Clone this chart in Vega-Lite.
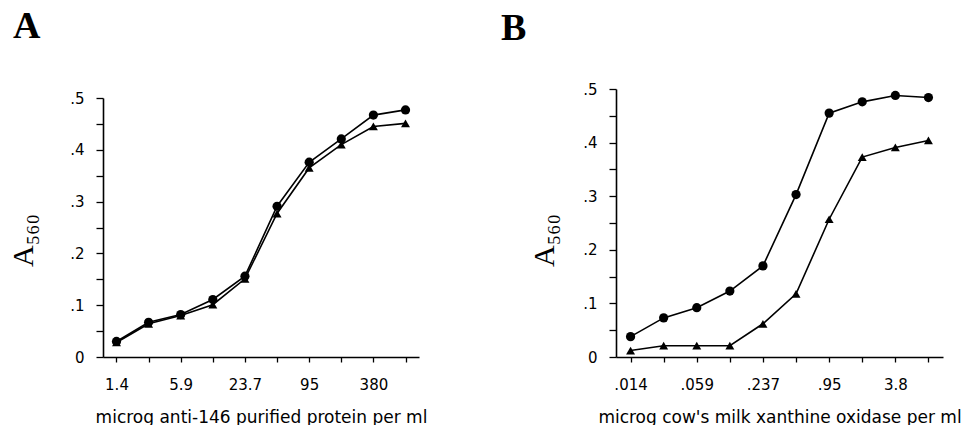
{
  "$schema": "https://vega.github.io/schema/vega-lite/v6.json",
  "background": "white",
  "padding": {"left": 8, "top": 8, "right": 0, "bottom": 0},
  "spacing": 74,
  "config": {
    "view": {"stroke": null},
    "axis": {
      "domainColor": "black", "domainWidth": 1.6, "tickColor": "black", "tickWidth": 1.3,
      "labelColor": "black", "titleColor": "black", "grid": false,
      "labelFont": "DejaVu Sans", "labelFontSize": 15, "labelFontWeight": "normal", "labelOverlap": false
    },
    "title": {"font": "Liberation Serif", "fontSize": 38, "fontWeight": "bold", "color": "black", "anchor": "start", "frame": "group"}
  },
  "datasets": {
    "a": [
      {"conc": "1.4", "series": "circle", "a560": 0.030},
      {"conc": "2.95", "series": "circle", "a560": 0.067},
      {"conc": "5.9", "series": "circle", "a560": 0.082},
      {"conc": "11.8", "series": "circle", "a560": 0.111},
      {"conc": "23.7", "series": "circle", "a560": 0.156},
      {"conc": "47.4", "series": "circle", "a560": 0.291},
      {"conc": "95", "series": "circle", "a560": 0.376},
      {"conc": "190", "series": "circle", "a560": 0.421},
      {"conc": "380", "series": "circle", "a560": 0.467},
      {"conc": "760", "series": "circle", "a560": 0.477},
      {"conc": "1.4", "series": "triangle", "a560": 0.028},
      {"conc": "2.95", "series": "triangle", "a560": 0.064},
      {"conc": "5.9", "series": "triangle", "a560": 0.080},
      {"conc": "11.8", "series": "triangle", "a560": 0.101},
      {"conc": "23.7", "series": "triangle", "a560": 0.151},
      {"conc": "47.4", "series": "triangle", "a560": 0.277},
      {"conc": "95", "series": "triangle", "a560": 0.365},
      {"conc": "190", "series": "triangle", "a560": 0.410},
      {"conc": "380", "series": "triangle", "a560": 0.445},
      {"conc": "760", "series": "triangle", "a560": 0.451}
    ],
    "b": [
      {"conc": ".014", "series": "circle", "a560": 0.038},
      {"conc": ".029", "series": "circle", "a560": 0.073},
      {"conc": ".059", "series": "circle", "a560": 0.092},
      {"conc": ".118", "series": "circle", "a560": 0.123},
      {"conc": ".237", "series": "circle", "a560": 0.170},
      {"conc": ".475", "series": "circle", "a560": 0.303},
      {"conc": ".95", "series": "circle", "a560": 0.455},
      {"conc": "1.9", "series": "circle", "a560": 0.476},
      {"conc": "3.8", "series": "circle", "a560": 0.488},
      {"conc": "7.6", "series": "circle", "a560": 0.484},
      {"conc": ".014", "series": "triangle", "a560": 0.012},
      {"conc": ".029", "series": "triangle", "a560": 0.021},
      {"conc": ".059", "series": "triangle", "a560": 0.021},
      {"conc": ".118", "series": "triangle", "a560": 0.021},
      {"conc": ".237", "series": "triangle", "a560": 0.062},
      {"conc": ".475", "series": "triangle", "a560": 0.118},
      {"conc": ".95", "series": "triangle", "a560": 0.257},
      {"conc": "1.9", "series": "triangle", "a560": 0.373},
      {"conc": "3.8", "series": "triangle", "a560": 0.391},
      {"conc": "7.6", "series": "triangle", "a560": 0.404}
    ]
  },
  "hconcat": [
    {
      "title": {"text": "A", "dx": -90, "offset": 43},
      "width": 316, "height": 268,
      "data": {"name": "a"},
      "encoding": {
        "x": {"field": "conc", "type": "ordinal", "sort": null,
          "scale": {"type": "point", "padding": 0.42},
          "axis": {"labelAngle": 0, "tickSize": 5, "labelPadding": 15,
            "labelExpr": "indexof(['1.4','5.9','23.7','95','380'], datum.label) >= 0 ? datum.label : ''",
            "title": "microg anti-146 purified protein per ml",
            "titleFont": "DejaVu Sans", "titleFontSize": 17, "titleFontWeight": "normal", "titlePadding": 17}},
        "y": {"field": "a560", "type": "quantitative",
          "scale": {"domain": [0, 0.5], "range": [268, 9]},
          "axis": {"values": [0, 0.05, 0.1, 0.15, 0.2, 0.25, 0.3, 0.35, 0.4, 0.45, 0.5],
            "labelExpr": "round(datum.value*20) % 2 == 1 ? '' : (datum.value == 0 ? '0' : replace(format(datum.value, '.1f'), '0.', '.'))",
            "tickSize": 7, "labelPadding": 12,
            "title": "A₅₆₀", "titleFont": "Liberation Serif", "titleFontSize": 30, "titleFontWeight": "normal", "titlePadding": 31, "titleY": 151}}
      },
      "layer": [
        {"mark": {"type": "line", "color": "black", "strokeWidth": 1.6},
         "encoding": {"detail": {"field": "series"}, "order": {"value": null}}},
        {"mark": {"type": "point", "filled": true, "color": "black", "opacity": 1},
         "encoding": {
           "shape": {"field": "series", "type": "nominal", "scale": {"domain": ["circle", "triangle"], "range": ["circle", "triangle-up"]}, "legend": null},
           "size": {"field": "series", "type": "nominal", "scale": {"domain": ["circle", "triangle"], "range": [85, 80]}, "legend": null}
         }}
      ]
    },
    {
      "title": {"text": "B", "dx": -115, "offset": 34},
      "width": 327, "height": 268,
      "data": {"name": "b"},
      "encoding": {
        "x": {"field": "conc", "type": "ordinal", "sort": null,
          "scale": {"type": "point", "padding": 0.44},
          "axis": {"labelAngle": 0, "tickSize": 5, "labelPadding": 15,
            "labelExpr": "indexof(['.014','.059','.237','.95','3.8'], datum.label) >= 0 ? datum.label : ''",
            "title": "microg cow's milk xanthine oxidase per ml",
            "titleFont": "DejaVu Sans", "titleFontSize": 17, "titleFontWeight": "normal", "titlePadding": 17}},
        "y": {"field": "a560", "type": "quantitative",
          "scale": {"domain": [0, 0.5]},
          "axis": {"values": [0, 0.05, 0.1, 0.15, 0.2, 0.25, 0.3, 0.35, 0.4, 0.45, 0.5],
            "labelExpr": "round(datum.value*20) % 2 == 1 ? '' : (datum.value == 0 ? '0' : replace(format(datum.value, '.1f'), '0.', '.'))",
            "tickSize": 7, "labelPadding": 12,
            "title": "A₅₆₀", "titleFont": "Liberation Serif", "titleFontSize": 30, "titleFontWeight": "normal", "titlePadding": 23, "titleY": 151}}
      },
      "layer": [
        {"mark": {"type": "line", "color": "black", "strokeWidth": 1.6},
         "encoding": {"detail": {"field": "series"}, "order": {"value": null}}},
        {"mark": {"type": "point", "filled": true, "color": "black", "opacity": 1},
         "encoding": {
           "shape": {"field": "series", "type": "nominal", "scale": {"domain": ["circle", "triangle"], "range": ["circle", "triangle-up"]}, "legend": null},
           "size": {"field": "series", "type": "nominal", "scale": {"domain": ["circle", "triangle"], "range": [85, 80]}, "legend": null}
         }}
      ]
    }
  ]
}
